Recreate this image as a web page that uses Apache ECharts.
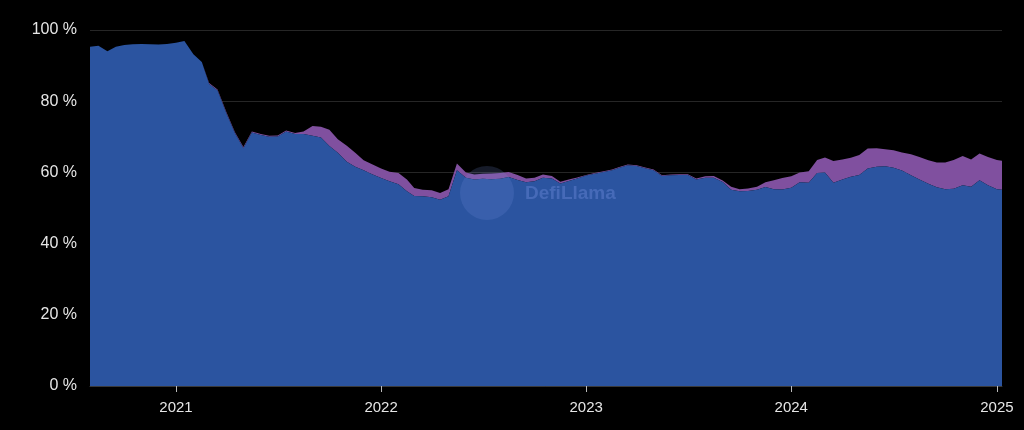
<!DOCTYPE html>
<html>
<head>
<meta charset="utf-8">
<script src="https://cdn.jsdelivr.net/npm/echarts@6/dist/echarts.min.js"></script>
<style>
html,body{margin:0;padding:0;background:#000;}
#c{width:1024px;height:430px;}
</style>
</head>
<body>
<div id="c"></div>
<script>
var dates = [
'2020-08-01','2020-08-16','2020-09-01','2020-09-16','2020-10-01','2020-10-16','2020-11-01','2020-11-16','2020-12-01','2020-12-16',
'2021-01-01','2021-01-16','2021-02-01','2021-02-16','2021-03-01','2021-03-16','2021-04-01','2021-04-16','2021-05-01','2021-05-16',
'2021-06-01','2021-06-16','2021-07-01','2021-07-16','2021-08-01','2021-08-16','2021-09-01','2021-09-16','2021-10-01','2021-10-16',
'2021-11-01','2021-11-16','2021-12-01','2021-12-16',
'2022-01-01','2022-01-16','2022-02-01','2022-02-16','2022-03-01','2022-03-16','2022-04-01','2022-04-16','2022-05-01','2022-05-16',
'2022-06-01','2022-06-16','2022-07-01','2022-07-16','2022-08-01','2022-08-16','2022-09-01','2022-09-16','2022-10-01','2022-10-16',
'2022-11-01','2022-11-16','2022-12-01','2022-12-16',
'2023-01-01','2023-01-16','2023-02-01','2023-02-16','2023-03-01','2023-03-16','2023-04-01','2023-04-16','2023-05-01','2023-05-16',
'2023-06-01','2023-06-16','2023-07-01','2023-07-16','2023-08-01','2023-08-16','2023-09-01','2023-09-16','2023-10-01','2023-10-16',
'2023-11-01','2023-11-16','2023-12-01','2023-12-16',
'2024-01-01','2024-01-16','2024-02-01','2024-02-16','2024-03-01','2024-03-16','2024-04-01','2024-04-16','2024-05-01','2024-05-16',
'2024-06-01','2024-06-16','2024-07-01','2024-07-16','2024-08-01','2024-08-16','2024-09-01','2024-09-16','2024-10-01','2024-10-16',
'2024-11-01','2024-11-16','2024-12-01','2024-12-16',
'2025-01-01','2025-01-10'
];
var blueShare = [
95.3,95.6,94.0,95.3,95.8,96.0,96.1,96.0,95.9,96.1,
96.4,96.9,93.2,91.0,84.8,83.0,76.5,71.0,66.8,71.2,
70.5,70.0,70.1,71.5,70.8,70.8,70.3,69.8,67.4,65.5,
63.0,61.6,60.6,59.5,
58.4,57.5,56.7,54.7,53.4,53.3,53.0,52.3,53.3,60.6,
58.5,58.0,58.2,58.1,58.2,58.7,57.9,57.2,57.5,58.5,
58.3,56.9,57.6,58.3,
59.1,59.6,60.1,60.6,61.3,62.0,61.8,61.2,60.6,59.0,
59.2,59.3,59.3,58.0,58.5,58.5,57.3,55.1,54.7,54.8,
55.1,55.9,55.3,55.2,
55.7,57.2,57.1,59.8,60.0,57.1,58.0,58.8,59.3,61.1,
61.6,61.7,61.3,60.5,59.2,58.0,56.8,55.8,55.3,55.4,
56.4,56.0,57.8,56.4,
55.3,55.1
];
var purpleShare = [
0,0,0,0,0,0,0,0,0,0,
0,0,0,0,0.3,0.3,0.3,0.3,0.3,0.3,
0.3,0.3,0.3,0.3,0.3,0.7,2.7,3.0,4.6,3.8,
4.5,3.9,2.8,2.8,
2.7,2.7,3.1,3.3,2.2,1.8,2.0,1.9,2.0,1.9,
1.5,1.4,1.4,1.6,1.6,1.4,1.4,1.1,1.0,0.9,
0.7,0.5,0.4,0.3,
0.2,0.2,0.2,0.2,0.2,0.2,0.2,0.2,0.2,0.2,
0.2,0.2,0.2,0.3,0.4,0.5,0.4,0.9,0.6,0.7,
0.9,1.3,2.5,3.2,
3.2,2.8,3.2,3.7,4.2,6.1,5.6,5.3,5.6,5.6,
5.2,4.8,4.9,5.1,5.9,6.3,6.6,7.0,7.5,8.1,
8.2,7.6,7.5,7.9,
8.2,8.2
];
var yearTicks = ['2021-01-01','2022-01-01','2023-01-01','2024-01-01','2025-01-01'];
var xStart = '2020-08-01', xEnd = '2025-01-10';
var yTicks = [0,20,40,60,80,100];

function ts(d){ return Date.parse(d + 'T00:00:00Z'); }
function pairs(arr){ return dates.map(function(d,i){ return [ts(d), arr[i]]; }); }
var tickTimes = yearTicks.map(ts);

var chart = echarts.init(document.getElementById('c'), null, {renderer:'canvas'});
chart.setOption({
  backgroundColor: '#000',
  animation: false,
  grid: {left: 90, right: 22, top: 30, bottom: 44},
  xAxis: [
    {
      type: 'time',
      min: ts(xStart),
      max: ts(xEnd),
      show: false
    },
    {
      type: 'value',
      position: 'bottom',
      min: ts(xStart),
      max: ts(xEnd),
      axisLine: {show: true, lineStyle: {color: '#3a3a3a', width: 1}},
      axisTick: {show: true, customValues: tickTimes, length: 6, lineStyle: {color: '#bbb'}},
      axisLabel: {
        customValues: tickTimes,
        formatter: function(v){ return String(new Date(v).getUTCFullYear()); },
        color: '#e6e6e6', fontSize: 15, fontFamily: 'Liberation Sans', margin: 14
      },
      splitLine: {show: false}
    }
  ],
  yAxis: {
    type: 'value',
    min: 0, max: 100, interval: 20,
    axisLine: {show: false},
    axisTick: {show: false},
    axisLabel: {formatter: '{value} %', color: '#e6e6e6', fontSize: 16, fontFamily: 'Liberation Sans', margin: 13},
    splitLine: {show: true, lineStyle: {color: '#262626', width: 1}}
  },
  series: [
    {
      name: 'blue', type: 'line', stack: 'total', xAxisIndex: 0, data: pairs(blueShare),
      showSymbol: false, symbol: 'none',
      lineStyle: {width: 0},
      areaStyle: {color: '#2b54a0', opacity: 1},
      z: 3
    },
    {
      name: 'purple', type: 'line', stack: 'total', xAxisIndex: 0, data: pairs(purpleShare),
      showSymbol: false, symbol: 'none',
      lineStyle: {width: 0},
      areaStyle: {color: '#80509f', opacity: 1},
      z: 2
    }
  ],
  graphic: [
    {type: 'circle', left: 460, top: 166, shape: {r: 27}, style: {fill: 'rgba(120,150,230,0.18)'}, z: 100},
    {type: 'text', left: 525, top: 184, style: {text: 'DefiLlama', fill: 'rgba(120,150,230,0.35)', font: 'bold 19px "Liberation Sans"'}, z: 100}
  ]
});
</script>
</body>
</html>
